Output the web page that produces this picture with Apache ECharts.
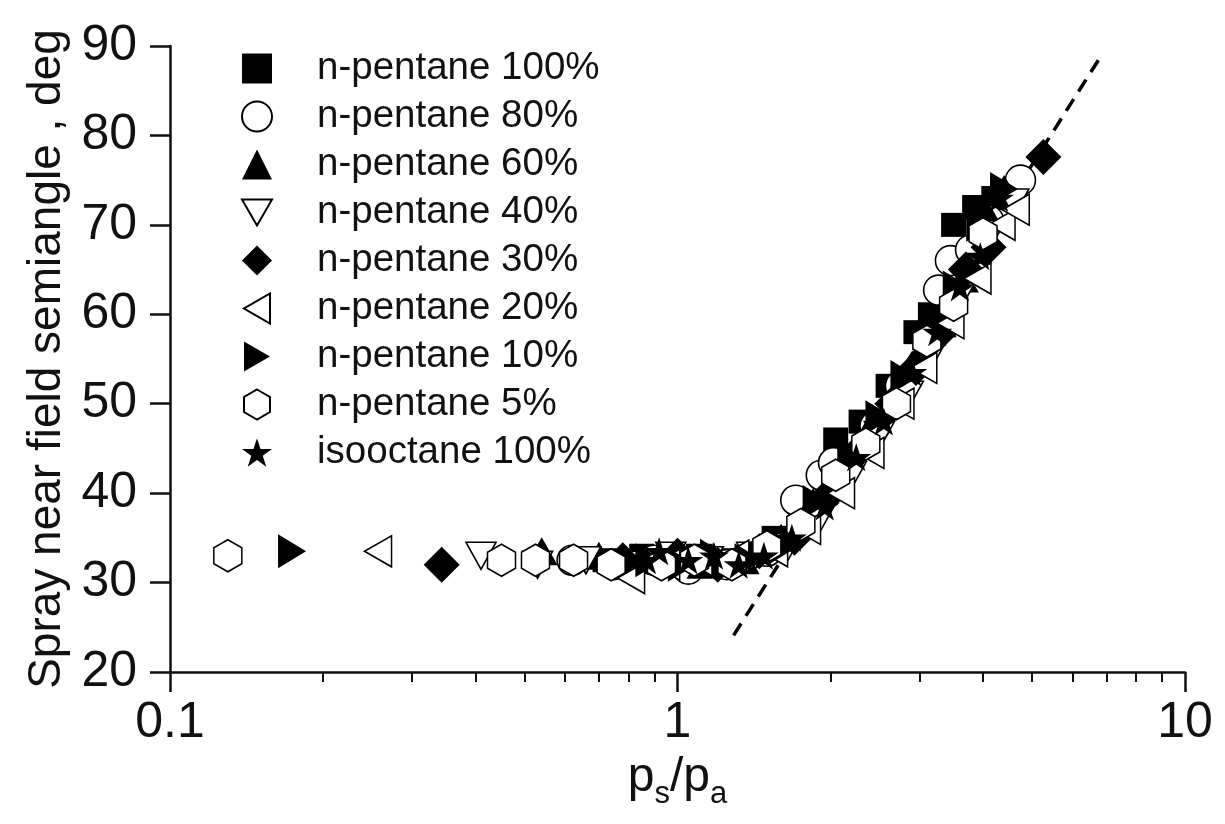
<!DOCTYPE html>
<html><head><meta charset="utf-8">
<script src="https://cdn.jsdelivr.net/npm/echarts@6/dist/echarts.min.js"></script>
<style>html,body{margin:0;padding:0;background:#fff}#c{width:1225px;height:824px}</style>
</head><body><div id="c"></div>
<script>
// ---- data ----
const seriesNames = ['n-pentane 100%','n-pentane 80%','n-pentane 60%','n-pentane 40%','n-pentane 30%','n-pentane 20%','n-pentane 10%','n-pentane 5%','isooctane 100%'];

const p100x = [0.72,0.85,0.98,1.10,1.30,1.55,1.75,2.05,2.30,2.60,2.95,3.15,3.50,3.85,4.20];
const p100y = [32.5,33.0,32.0,33.0,32.5,35.0,38.0,46.0,48.0,52.0,58.0,60.0,70.0,72.0,73.0];

const p80x = [0.62,0.75,0.90,1.05,1.25,1.50,1.71,1.92,2.03,2.45,2.75,3.27,3.45,3.78,4.10,4.74];
const p80y = [32.5,32.0,32.5,31.5,32.0,33.5,39.2,42.0,43.4,47.5,52.0,62.7,66.0,67.2,70.5,75.0];

const p60x = [0.54,0.70,0.82,0.95,1.12,1.35,1.60,1.85,2.10,2.35,2.70,3.00,3.30,3.65,4.00,4.40];
const p60y = [33.5,33.0,32.5,33.0,32.0,32.5,35.0,39.0,43.0,46.5,51.0,55.5,59.0,64.0,72.0,74.0];

const p40x = [0.41,0.53,0.66,0.80,0.97,1.15,1.40,1.65,1.90,2.20,2.50,2.85,3.20,3.60,4.05,4.60];
const p40y = [33.0,32.0,32.5,32.0,33.0,32.5,33.0,34.0,37.0,42.0,46.5,51.0,56.0,62.0,68.0,72.5];

const p30x = [0.343,0.78,1.00,1.20,1.45,1.70,2.00,2.30,2.65,2.95,3.30,3.70,4.10,5.26];
const p30y = [32.0,32.5,33.0,32.0,33.5,35.0,40.0,45.0,50.0,54.0,58.0,65.0,67.5,77.6];

const p20x = [0.257,0.81,0.95,1.10,1.30,1.55,1.80,2.10,2.40,2.75,3.05,3.45,3.90,4.35,4.64];
const p20y = [33.5,30.5,32.0,32.5,33.0,33.5,36.0,40.0,44.5,50.0,54.0,59.0,64.0,70.0,71.7];

const p10x = [0.174,0.88,1.02,1.18,1.38,1.62,1.88,2.20,2.50,2.80,3.15,3.55,3.95,4.40];
const p10y = [33.5,32.5,32.0,33.0,32.5,34.0,39.0,44.0,48.5,53.0,57.0,63.0,70.0,74.0];

const p5x = [0.130,0.45,0.525,0.624,0.74,0.93,1.08,1.28,1.50,1.75,2.05,2.35,2.70,3.10,3.50,4.00];
const p5y = [33.0,32.5,32.5,32.5,32.0,32.0,32.5,32.0,34.0,36.5,42.0,45.5,50.0,57.0,61.0,69.0];

const isoX = [0.87,0.92,1.05,1.18,1.32,1.48,1.68,1.95,2.25,2.55,2.90,3.25,3.60,3.95,4.30];
const isoY = [32.5,33.5,32.5,33.0,32.0,33.0,35.0,38.5,44.0,48.0,53.5,58.0,63.0,66.5,73.0];

const fitLineX = [1.29, 6.80];
const fitLineY = [24.1, 88.7];

const yTicks = [20, 90, 10];            // min, max, interval
const xRange = [0.1, 10];
const xMinorTicks = [0.2,0.3,0.4,0.5,0.6,0.7,0.8,0.9,2,3,4,5,6,7,8,9];

// ---- chart ----
const FONT = 'Liberation Sans, Arial, Helvetica, sans-serif';
const pts = (xs, ys) => xs.map((x, i) => [x, ys[i]]);

const STAR = 'path://M50,0 L61.2,34.5 L97.6,34.5 L68.2,55.9 L79.4,90.5 L50,69.1 L20.6,90.5 L31.8,55.9 L2.4,34.5 L38.8,34.5 Z';
const TRI_DOWN = 'path://M0,0 L10,0 L5,8.66 Z';
const TRI_LEFT = 'path://M8.66,0 L8.66,10 L0,5 Z';
const TRI_RIGHT = 'path://M0,0 L0,10 L8.66,5 Z';
const HEX = 'path://M5,0 L9.33,2.5 L9.33,7.5 L5,10 L0.67,7.5 L0.67,2.5 Z';

const filled = {color:'#000', borderColor:'#000', borderWidth:0, opacity:1};
const open = {color:'#fff', borderColor:'#000', borderWidth:1.6, opacity:1};

const defs = [
  {data: pts(p100x,p100y), symbol:'rect', size:[25,24], style:filled},
  {data: pts(p80x,p80y), symbol:'circle', size:30, style:open},
  {data: pts(p60x,p60y), symbol:'triangle', size:[32,28], style:filled},
  {data: pts(p40x,p40y), symbol:TRI_DOWN, size:[30,27], style:open},
  {data: pts(p30x,p30y), symbol:'diamond', size:[36,36], style:filled},
  {data: pts(p20x,p20y), symbol:TRI_LEFT, size:[27,31], style:open},
  {data: pts(p10x,p10y), symbol:TRI_RIGHT, size:[28,34], style:filled},
  {data: pts(p5x,p5y), symbol:HEX, size:[28,32], style:open},
  {data: pts(isoX,isoY), symbol:STAR, size:[30,28], style:filled}
];

const series = defs.map((d, i) => ({
  name: seriesNames[i], type:'scatter', xAxisIndex:0, yAxisIndex:0,
  data: d.data, symbol: d.symbol, symbolSize: d.size, itemStyle: d.style,
  emphasis:{disabled:true}, z: 3
}));
series.push({
  name:'fit', type:'line', data: pts(fitLineX, fitLineY), symbol:'none',
  lineStyle:{color:'#000', width:3.5, type:[14,9]}, silent:true, z:2
});

const chart = echarts.init(document.getElementById('c'), null, {renderer:'canvas'});
chart.setOption({
  backgroundColor:'#fff',
  animation:false,
  textStyle:{fontFamily:FONT},
  grid:{left:170, right:40, top:46, bottom:152, containLabel:false},
  legend:{
    orient:'vertical', left:236, top:44, itemWidth:30, itemHeight:30, itemGap:9,
    data: seriesNames, selectedMode:false,
    textStyle:{fontFamily:FONT, fontSize:38.5, color:'#111', padding:[0,0,0,40]}
  },
  xAxis:[{
    type:'log', logBase:10, min:xRange[0], max:xRange[1],
    name:'{p|p}{s|s}{p|/p}{s|a}', nameLocation:'middle', nameGap:80, nameMoveOverlap:false,
    nameTextStyle:{rich:{
      p:{fontFamily:FONT, fontSize:48, color:'#111', lineHeight:52},
      s:{fontFamily:FONT, fontSize:31, color:'#111', lineHeight:31, padding:[32,0,0,0]}
    }},
    axisLine:{show:true, lineStyle:{color:'#111', width:2.5}},
    axisTick:{show:true, inside:false, length:20, lineStyle:{color:'#111', width:2.5}},
    minorTick:{show:false},
    splitLine:{show:false},
    axisLabel:{fontFamily:FONT, fontSize:50, color:'#111', margin:26,
      formatter: v => String(+v.toPrecision(3))}
  },{
    type:'log', logBase:10, min:xRange[0], max:xRange[1], position:'bottom',
    axisLine:{show:false},
    axisTick:{show:true, inside:false, length:10, customValues:xMinorTicks, lineStyle:{color:'#111', width:2}},
    axisLabel:{show:false}, splitLine:{show:false}
  }],
  yAxis:{
    type:'value', min:yTicks[0], max:yTicks[1], interval:yTicks[2],
    name:'Spray near field semiangle , deg', nameLocation:'middle', nameGap:100, nameMoveOverlap:false,
    nameTextStyle:{fontFamily:FONT, fontSize:46, color:'#111'},
    axisLine:{show:true, lineStyle:{color:'#111', width:2.5}},
    axisTick:{show:true, inside:false, length:20, lineStyle:{color:'#111', width:2.5}},
    splitLine:{show:false},
    axisLabel:{fontFamily:FONT, fontSize:50, color:'#111', margin:33}
  },
  series: series
});
</script>
</body></html>
